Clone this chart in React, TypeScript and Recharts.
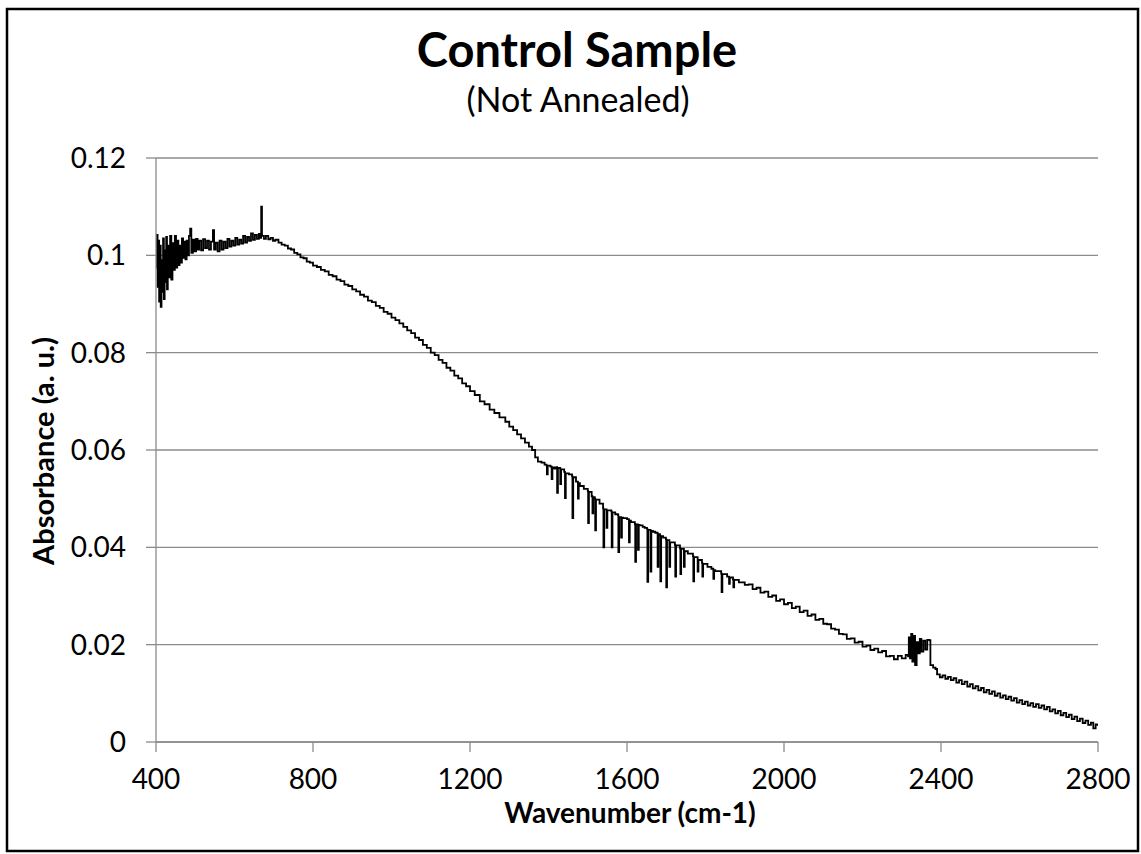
import React from 'react';
import { LineChart, Line, XAxis, YAxis, CartesianGrid } from 'recharts';

const chartTitle = 'Control Sample';
const chartSubtitle = '(Not Annealed)';
const xAxisTitle = 'Wavenumber (cm-1)';
const yAxisTitle = 'Absorbance (a. u.)';
const xTicks = [400, 800, 1200, 1600, 2000, 2400, 2800];
const yTicks = [0, 0.02, 0.04, 0.06, 0.08, 0.1, 0.12];

// [wavenumber, absorbance]
const lowRegion: [number, number][] = [
  [400, 0.0975], [402, 0.1042], [404, 0.0935], [406, 0.103], [408, 0.0905], [410, 0.102],
  [412, 0.0894], [414, 0.099], [416, 0.0925], [418, 0.1035], [420, 0.091], [422, 0.101],
  [424, 0.0945], [426, 0.1038], [428, 0.093], [430, 0.102], [433, 0.0955], [436, 0.104],
  [439, 0.095], [442, 0.1025], [445, 0.097], [448, 0.104], [451, 0.0975], [454, 0.103],
  [457, 0.098], [460, 0.102], [463, 0.0985], [466, 0.1035], [469, 0.0995], [472, 0.1028],
  [475, 0.0992], [478, 0.103], [481, 0.1], [484, 0.104], [487, 0.1055], [490, 0.1005],
  [494, 0.1032], [498, 0.1008], [502, 0.1034], [506, 0.1012], [510, 0.103], [515, 0.101],
  [520, 0.1033], [525, 0.1015], [530, 0.103], [535, 0.1012], [540, 0.1028], [545, 0.1052],
  [548, 0.1012], [552, 0.1026], [557, 0.1008], [562, 0.103], [567, 0.1012], [572, 0.1028],
  [577, 0.1015], [582, 0.1034], [587, 0.1018], [592, 0.103], [597, 0.102], [602, 0.1036],
  [607, 0.1022], [612, 0.1032], [617, 0.1024], [622, 0.104], [627, 0.1026], [632, 0.1038],
  [637, 0.103], [642, 0.1045], [647, 0.1032], [652, 0.1042], [657, 0.1034], [662, 0.1044],
  [666, 0.1036], [668, 0.11], [670, 0.104], [675, 0.1034], [680, 0.104], [686, 0.1033],
  [692, 0.1036], [698, 0.103], [704, 0.1032],
];

const descentRegion: [number, number][] = [
  [712, 0.1026], [720, 0.1022], [728, 0.102], [736, 0.1014], [744, 0.1012], [752, 0.1005],
  [760, 0.1002], [768, 0.0996], [776, 0.0994], [784, 0.0987], [792, 0.0985], [800, 0.0979],
  [810, 0.0976], [820, 0.097], [830, 0.0967], [840, 0.096], [850, 0.0957], [860, 0.095],
  [870, 0.0947], [880, 0.094], [890, 0.0937], [900, 0.093], [910, 0.0926], [920, 0.0919],
  [930, 0.0915], [940, 0.0907], [950, 0.0904], [960, 0.0896], [970, 0.0892], [980, 0.0884],
  [990, 0.088], [1000, 0.0872], [1010, 0.0867], [1020, 0.086], [1030, 0.0853], [1040, 0.0846],
  [1050, 0.084], [1060, 0.0831], [1070, 0.0826], [1080, 0.0816], [1090, 0.081], [1100, 0.08],
  [1110, 0.0795], [1120, 0.0785], [1130, 0.0779], [1140, 0.0769], [1150, 0.0763], [1160, 0.0753],
  [1170, 0.0747], [1180, 0.0737], [1190, 0.0731], [1200, 0.0721], [1212, 0.0713], [1225, 0.07],
  [1237, 0.0694], [1250, 0.0683], [1262, 0.0676], [1275, 0.0667], [1290, 0.0658], [1300, 0.0648],
  [1310, 0.0641], [1320, 0.0632], [1330, 0.0624], [1340, 0.0615], [1350, 0.0607], [1358, 0.06],
  [1366, 0.0585], [1373, 0.0576], [1382, 0.0574], [1390, 0.057],
];

const dipRegion: [number, number][] = [
  [1395, 0.0568], [1396, 0.055], [1398, 0.0568], [1405, 0.0566], [1408, 0.054], [1410, 0.0564],
  [1415, 0.0562], [1420, 0.0565], [1422, 0.0512], [1424, 0.0563], [1430, 0.053], [1432, 0.056],
  [1440, 0.0555], [1442, 0.0501], [1444, 0.0552], [1452, 0.055], [1460, 0.0546], [1461, 0.046],
  [1463, 0.0544], [1470, 0.0535], [1475, 0.05], [1477, 0.0532], [1480, 0.0526], [1490, 0.052],
  [1500, 0.0516], [1501, 0.045], [1503, 0.0514], [1510, 0.0505], [1512, 0.047], [1514, 0.0503],
  [1518, 0.05], [1519, 0.0435], [1521, 0.0498], [1530, 0.049], [1539, 0.048], [1540, 0.04],
  [1542, 0.0478], [1548, 0.044], [1550, 0.0476], [1560, 0.0474], [1561, 0.04], [1563, 0.0472],
  [1570, 0.0468], [1577, 0.0466], [1578, 0.039], [1580, 0.0462], [1585, 0.042], [1587, 0.0461],
  [1590, 0.046], [1600, 0.0458], [1605, 0.041], [1607, 0.0455], [1610, 0.0452], [1620, 0.0448],
  [1621, 0.037], [1623, 0.0447], [1628, 0.0395], [1630, 0.0446], [1632, 0.0445], [1640, 0.0442],
  [1645, 0.044], [1651, 0.0438], [1652, 0.0329], [1654, 0.0436], [1660, 0.035], [1662, 0.0434],
  [1666, 0.0432], [1672, 0.043], [1678, 0.036], [1680, 0.0427], [1684, 0.0424], [1685, 0.033],
  [1687, 0.0423], [1692, 0.042], [1699, 0.0417], [1700, 0.0318], [1702, 0.0415], [1708, 0.036],
  [1710, 0.041], [1722, 0.0405], [1723, 0.034], [1725, 0.0404], [1735, 0.0398], [1736, 0.0345],
  [1738, 0.0397], [1745, 0.036], [1747, 0.0392], [1755, 0.0387], [1768, 0.0382], [1769, 0.033],
  [1771, 0.038], [1780, 0.035], [1782, 0.0374], [1791, 0.0368], [1792, 0.034], [1794, 0.0366],
  [1805, 0.036], [1815, 0.0356], [1820, 0.0335], [1822, 0.0353], [1825, 0.0351], [1840, 0.0346],
  [1841, 0.0308], [1843, 0.0345], [1855, 0.034], [1860, 0.0325], [1862, 0.0338], [1870, 0.0334],
  [1871, 0.0318], [1873, 0.0333], [1885, 0.0328], [1900, 0.0323],
];

const tailRegion: [number, number][] = [
  [1910, 0.0324], [1920, 0.0314], [1930, 0.0317], [1940, 0.0307], [1950, 0.0309], [1960, 0.0298],
  [1970, 0.0301], [1980, 0.029], [1990, 0.0293], [2000, 0.0283], [2010, 0.0286], [2020, 0.0275],
  [2030, 0.0278], [2040, 0.0267], [2050, 0.027], [2060, 0.0259], [2070, 0.0262], [2080, 0.0251],
  [2090, 0.0253], [2100, 0.0243], [2110, 0.0242], [2120, 0.0233], [2130, 0.0231], [2140, 0.0222],
  [2150, 0.0221], [2160, 0.0212], [2170, 0.0213], [2180, 0.0204], [2190, 0.0206], [2200, 0.0196],
  [2210, 0.0198], [2220, 0.0189], [2230, 0.0192], [2240, 0.0184], [2250, 0.0187], [2260, 0.0176],
  [2270, 0.0177], [2280, 0.017], [2290, 0.0177], [2300, 0.0172], [2310, 0.0179], [2316, 0.0176],
  [2318, 0.0215], [2321, 0.0172], [2324, 0.0222], [2327, 0.0165], [2330, 0.0218], [2334, 0.0158],
  [2338, 0.0205], [2342, 0.0182], [2346, 0.0212], [2350, 0.0186], [2355, 0.0208], [2360, 0.019],
  [2365, 0.021], [2371, 0.0209], [2373, 0.0158], [2380, 0.0153], [2386, 0.015], [2390, 0.0139],
  [2397, 0.0133], [2404, 0.0137], [2411, 0.013], [2418, 0.0134], [2425, 0.0127], [2432, 0.0131],
  [2439, 0.0122], [2446, 0.0127], [2453, 0.0119], [2460, 0.0124], [2467, 0.0114], [2474, 0.0119],
  [2481, 0.011], [2488, 0.0115], [2495, 0.0106], [2502, 0.0111], [2509, 0.0102], [2516, 0.0107],
  [2523, 0.0099], [2530, 0.0104], [2537, 0.0095], [2544, 0.01], [2551, 0.0091], [2558, 0.0096],
  [2565, 0.0088], [2572, 0.0093], [2579, 0.0085], [2586, 0.009], [2593, 0.0081], [2600, 0.0086],
  [2607, 0.0078], [2614, 0.0083], [2621, 0.0075], [2628, 0.008], [2635, 0.0072], [2642, 0.0078],
  [2649, 0.007], [2656, 0.0075], [2663, 0.0067], [2670, 0.0072], [2677, 0.0063], [2684, 0.0067],
  [2691, 0.0059], [2698, 0.0064], [2705, 0.0055], [2712, 0.006], [2719, 0.0051], [2726, 0.0056],
  [2733, 0.0047], [2740, 0.0052], [2747, 0.0043], [2754, 0.0048], [2761, 0.0039], [2768, 0.0044],
  [2775, 0.0035], [2782, 0.004], [2788, 0.0028], [2794, 0.0036], [2800, 0.0033],
];

const data = [...lowRegion, ...descentRegion, ...dipRegion, ...tailRegion].map(([wn, abs]) => ({ wn, abs }));

const FONT = 'Lato, "Open Sans", sans-serif';
const GRAY = '#8c8c8c';

export default function App() {
  return (
    <div style={{ position: 'absolute', left: 0, top: 0, width: 1141, height: 854, background: '#fff' }}>
      <LineChart
        width={1141}
        height={854}
        data={data}
        margin={{ top: 158, right: 43, bottom: 72, left: 0 }}
      >
        <CartesianGrid vertical={false} stroke={GRAY} strokeWidth={1.3} />
        <XAxis
          dataKey="wn"
          type="number"
          domain={[400, 2800]}
          ticks={xTicks}
          interval={0}
          height={40}
          stroke={GRAY}
          strokeWidth={1.3}
          tickSize={10}
          tickMargin={17}
          tick={{ fill: '#000', fontSize: 28, fontFamily: FONT }}
          allowDataOverflow
        />
        <YAxis
          type="number"
          domain={[0, 0.12]}
          ticks={yTicks}
          interval={0}
          width={156}
          stroke={GRAY}
          strokeWidth={1.3}
          tickSize={10}
          tickMargin={20}
          tick={{ fill: '#000', fontSize: 28, fontFamily: FONT }}
          allowDataOverflow
        />
        <Line
          type="stepAfter"
          dataKey="abs"
          stroke="#000"
          strokeWidth={1.8}
          dot={false}
          isAnimationActive={false}
        />
      </LineChart>
      <svg
        width={1141}
        height={854}
        style={{ position: 'absolute', left: 0, top: 0, pointerEvents: 'none' }}
      >
        <rect x={7} y={9} width={1131} height={842} fill="none" stroke="#000" strokeWidth={2.5} />
        <text x={577} y={67} textAnchor="middle" fontFamily={FONT} fontWeight="bold" fontSize={47} fill="#000">
          {chartTitle}
        </text>
        <text x={578} y={112} textAnchor="middle" fontFamily={FONT} fontSize={34} fill="#000">
          {chartSubtitle}
        </text>
        <text x={630} y={823} textAnchor="middle" fontFamily={FONT} fontWeight="bold" fontSize={28} fill="#000">
          {xAxisTitle}
        </text>
        <text
          x={0}
          y={0}
          transform="translate(54, 451) rotate(-90)"
          textAnchor="middle"
          fontFamily={FONT}
          fontWeight="bold"
          fontSize={29}
          fill="#000"
        >
          {yAxisTitle}
        </text>
      </svg>
    </div>
  );
}
